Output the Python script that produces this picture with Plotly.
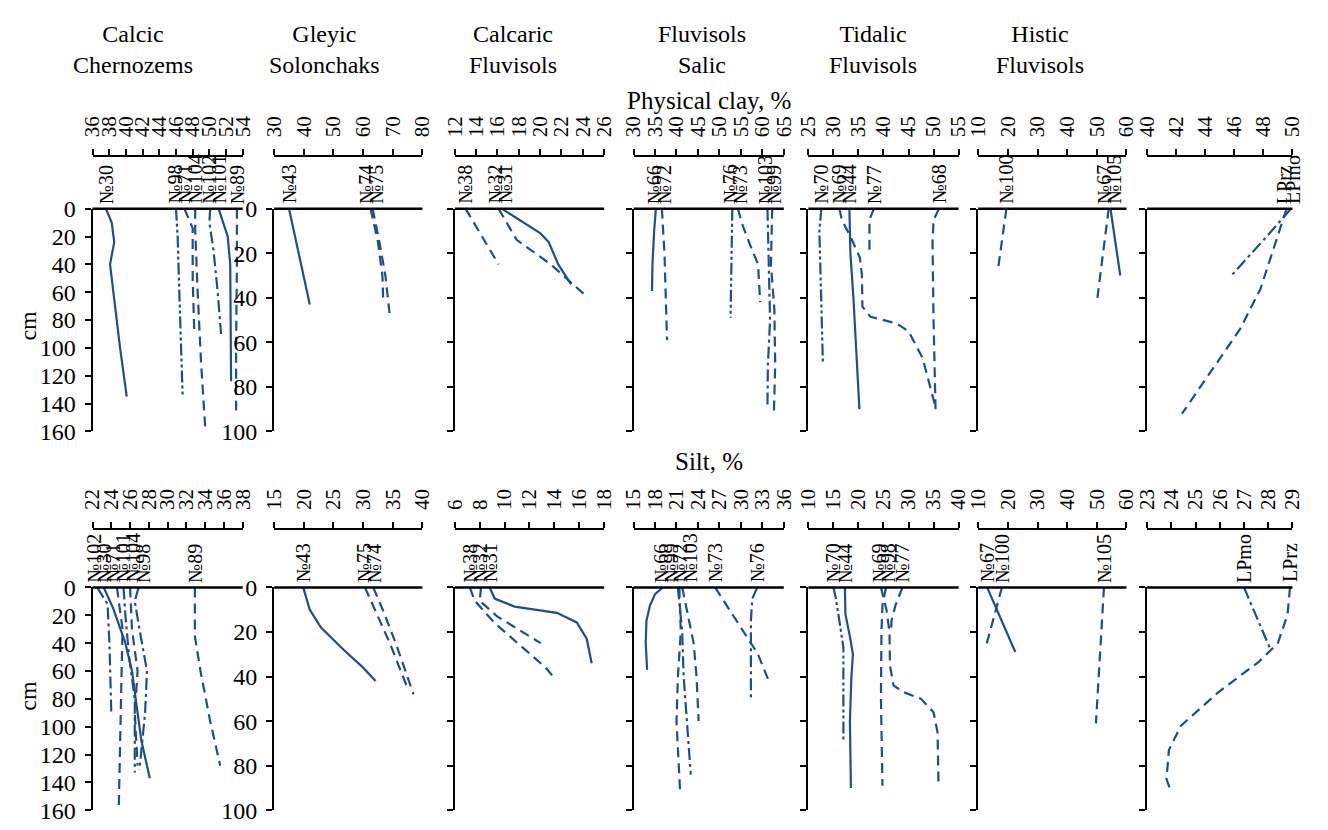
import plotly.graph_objects as go

# ================= DATA =================
soil_groups = ["Calcic<br>Chernozems", "Gleyic<br>Solonchaks", "Calcaric<br>Fluvisols",
               "Fluvisols<br>Salic", "Tidalic<br>Fluvisols", "Histic<br>Fluvisols"]
row_titles = ["Physical clay, %", "Silt, %"]
depth_label = "cm"

# x-axis (min, max, step) per panel
clay_axes = [(36, 54, 2), (30, 80, 10), (12, 26, 2), (30, 65, 5), (25, 55, 5), (10, 60, 10), (40, 50, 2)]
silt_axes = [(22, 38, 2), (15, 40, 5), (6, 18, 2), (15, 36, 3), (10, 40, 5), (10, 60, 10), (23, 29, 1)]
depth_max = [160, 100, 100, 100, 100, 100, 100]

# ---- Physical clay: Calcic Chernozems ----
c1_n30 = [37.6, 38.3, 38.6, 38.1, 38.5, 39.3, 40.1];  c1_n30_cm = [0, 10, 24, 40, 60, 100, 135]
c1_n98 = [46.0, 46.2, 46.4, 46.6, 46.8];              c1_n98_cm = [0, 20, 60, 100, 135]
c1_n71 = [47.0, 48.0, 48.0, 48.2];                    c1_n71_cm = [0, 14, 50, 90]
c1_n104 = [48.3, 48.3, 48.6, 49.0, 49.5];             c1_n104_cm = [0, 15, 60, 110, 157]
c1_n102 = [50.1, 50.0, 50.5, 51.0, 51.4];             c1_n102_cm = [0, 10, 30, 60, 90]
c1_n101 = [51.1, 52.2, 52.5, 52.6];                   c1_n101_cm = [0, 20, 40, 124]
c1_n89 = [53.3, 53.3, 53.2, 53.2];                    c1_n89_cm = [0, 40, 100, 145]
# ---- Physical clay: Gleyic Solonchaks ----
c2_n43 = [35.0, 42.0];                                c2_n43_cm = [0, 43]
c2_n74 = [62.5, 65.0, 66.5, 66.8];                    c2_n74_cm = [0, 15, 30, 42]
c2_n75 = [63.2, 65.5, 67.5, 69.0];                    c2_n75_cm = [0, 15, 30, 48]
# ---- Physical clay: Calcaric Fluvisols ----
c3_n38 = [13.0, 16.1];                                c3_n38_cm = [0, 25]
c3_n32 = [16.1, 17.8, 21.0, 24.5];                    c3_n32_cm = [0, 14, 25, 40]
c3_n31 = [16.4, 17.7, 20.0, 20.8, 21.7, 22.9];        c3_n31_cm = [0, 4, 11, 15, 25, 34]
# ---- Physical clay: Fluvisols Salic ----
c4_n66 = [35.2, 34.8, 34.4, 34.3];                    c4_n66_cm = [0, 10, 25, 37]
c4_n72 = [36.6, 37.2, 37.8];                          c4_n72_cm = [0, 20, 59]
c4_n76 = [53.0, 52.8, 52.6];                          c4_n76_cm = [0, 25, 49]
c4_n73 = [54.3, 55.5, 57.5, 59.0, 59.5];              c4_n73_cm = [0, 8, 18, 25, 42]
c4_n103 = [61.2, 61.5, 61.8, 61.3, 61.2];             c4_n103_cm = [0, 30, 50, 70, 88]
c4_n99 = [62.3, 62.0, 62.8, 63.0, 62.7];              c4_n99_cm = [0, 25, 45, 70, 91]
# ---- Physical clay: Tidalic Fluvisols ----
c5_n70 = [27.6, 27.2, 27.5, 27.9];                    c5_n70_cm = [0, 10, 35, 69]
c5_n69 = [31.2, 31.7, 33.5, 35.3, 35.7, 35.8, 37.4, 42.6, 45.0, 47.8, 50.4]
c5_n69_cm = [0, 5, 13, 22, 30, 44, 48.5, 51.5, 55, 67, 89]
c5_n44 = [33.2, 33.4, 34.0, 35.2];                    c5_n44_cm = [0, 20, 40, 90]
c5_n77 = [38.1, 37.2, 37.2];                          c5_n77_cm = [0, 5, 19]
c5_n68 = [51.1, 50.0, 49.8, 50.0, 50.4];              c5_n68_cm = [0, 5, 15, 50, 90]
# ---- Physical clay: Histic Fluvisols ----
c6_n100 = [19.5, 16.8];                               c6_n100_cm = [0, 26]
c6_n67 = [54.0, 50.1];                                c6_n67_cm = [0, 41]
c6_n105 = [54.6, 57.9];                               c6_n105_cm = [0, 30]
# ---- Physical clay: LP profiles ----
c7_lprz = [49.6, 49.2, 48.6, 47.8, 46.4, 44.4, 42.4]; c7_lprz_cm = [0, 8, 20, 36, 54, 73, 92]
c7_lpmo = [49.9, 48.3, 45.8];                         c7_lpmo_cm = [0, 12, 30]

# ---- Silt: Calcic Chernozems ----
s1_n102 = [22.5, 23.6, 23.8, 23.9, 24.0];             s1_n102_cm = [0, 12, 40, 70, 90]
s1_n30 = [23.2, 24.2, 25.5, 26.2, 26.6, 27.2, 28.1];  s1_n30_cm = [0, 15, 40, 60, 80, 110, 137]
s1_n71 = [24.6, 25.2, 25.1, 25.0, 24.8];              s1_n71_cm = [0, 30, 60, 100, 157]
s1_n101 = [25.3, 25.5, 25.9, 26.5, 26.5];             s1_n101_cm = [0, 20, 50, 80, 133]
s1_n104 = [26.0, 26.2, 26.8, 26.5, 26.8];             s1_n104_cm = [0, 30, 60, 90, 128]
s1_n98 = [26.9, 26.5, 27.0, 27.8, 27.6, 27.0];        s1_n98_cm = [0, 10, 30, 60, 90, 131]
s1_n89 = [32.9, 32.9, 33.5, 34.5, 35.6];              s1_n89_cm = [0, 35, 60, 95, 128]
# ---- Silt: Gleyic Solonchaks ----
s2_n43 = [19.9, 20.4, 21.0, 22.9, 26.7, 30.0, 32.1];  s2_n43_cm = [0, 5, 10, 18, 28, 36, 42]
s2_n75 = [30.3, 32.0, 34.5, 37.3];                    s2_n75_cm = [0, 10, 25, 44]
s2_n74 = [31.7, 33.3, 35.5, 38.5];                    s2_n74_cm = [0, 10, 25, 48]
# ---- Silt: Calcaric Fluvisols ----
s3_n38 = [7.2, 7.6, 9.2, 13.3, 13.9];                 s3_n38_cm = [0, 6, 16, 36, 40]
s3_n32 = [8.1, 8.0, 9.4, 12.9];                       s3_n32_cm = [0, 6, 13, 25]
s3_n31 = [8.8, 9.2, 10.8, 14.2, 15.8, 16.6, 17.0];    s3_n31_cm = [0, 5, 8.6, 11.4, 15.7, 23, 34]
# ---- Silt: Fluvisols Salic ----
s4_n66 = [19.1, 18.0, 17.3, 16.8, 16.7, 16.9];        s4_n66_cm = [0, 3, 8, 15, 25, 37]
s4_n99 = [21.2, 21.8, 22.0, 22.5, 23.0];              s4_n99_cm = [0, 20, 40, 60, 84]
s4_n72 = [21.4, 21.6, 21.2, 21.0, 21.5];              s4_n72_cm = [0, 20, 40, 60, 91]
s4_n103 = [21.8, 22.4, 23.4, 23.8, 24.1];             s4_n103_cm = [0, 10, 25, 40, 60]
s4_n73 = [26.4, 28.0, 30.5, 32.4, 33.9];              s4_n73_cm = [0, 8, 20, 30, 42]
s4_n76 = [32.3, 31.6, 31.4, 31.4];                    s4_n76_cm = [0, 5, 15, 50]
# ---- Silt: Tidalic Fluvisols ----
s5_n70 = [15.0, 15.5, 16.2, 17.0, 17.0];              s5_n70_cm = [0, 5, 15, 27, 69]
s5_n44 = [17.3, 17.4, 18.3, 18.9, 18.6, 18.3, 18.5];  s5_n44_cm = [0, 12, 22, 30, 40, 60, 90]
s5_n69 = [24.5, 25.6, 26.2, 26.3, 27.0, 29.0, 32.5, 35.0, 35.8, 36.0]
s5_n69_cm = [0, 10, 20, 35, 44, 47, 50, 56, 65, 89]
s5_n98 = [25.5, 24.8, 24.6, 24.5, 24.8];              s5_n98_cm = [0, 8, 20, 50, 89]
s5_n77 = [28.8, 27.4, 26.6, 26.5];                    s5_n77_cm = [0, 8, 15, 20]
# ---- Silt: Histic Fluvisols ----
s6_n67 = [13.0, 22.5];                                s6_n67_cm = [0, 29]
s6_n100 = [18.0, 12.5];                               s6_n100_cm = [0, 27]
s6_n105 = [52.4, 49.7];                               s6_n105_cm = [0, 61]
# ---- Silt: LP profiles ----
s7_lpmo = [27.0, 28.1];                               s7_lpmo_cm = [0, 28]
s7_lprz = [28.9, 28.8, 28.4, 27.6, 26.0, 24.4, 23.9, 23.8, 24.0]
s7_lprz_cm = [0, 12, 25, 33.5, 46.5, 62, 73, 86, 92]

# ---- panel membership (name, values, depths, line style) ----
clay_panels = [
    [("№30", c1_n30, c1_n30_cm, "solid"), ("№98", c1_n98, c1_n98_cm, "dashdotdot"),
     ("№71", c1_n71, c1_n71_cm, "dash"), ("№104", c1_n104, c1_n104_cm, "dash"),
     ("№102", c1_n102, c1_n102_cm, "dashdot"), ("№101", c1_n101, c1_n101_cm, "solid"),
     ("№89", c1_n89, c1_n89_cm, "dash")],
    [("№43", c2_n43, c2_n43_cm, "solid"), ("№74", c2_n74, c2_n74_cm, "dash"),
     ("№75", c2_n75, c2_n75_cm, "dash")],
    [("№38", c3_n38, c3_n38_cm, "dash"), ("№32", c3_n32, c3_n32_cm, "dash"),
     ("№31", c3_n31, c3_n31_cm, "solid")],
    [("№66", c4_n66, c4_n66_cm, "solid"), ("№72", c4_n72, c4_n72_cm, "dash"),
     ("№76", c4_n76, c4_n76_cm, "dashdotdot"), ("№73", c4_n73, c4_n73_cm, "dash"),
     ("№103", c4_n103, c4_n103_cm, "dashdot"), ("№99", c4_n99, c4_n99_cm, "dash")],
    [("№70", c5_n70, c5_n70_cm, "dashdotdot"), ("№69", c5_n69, c5_n69_cm, "dash"),
     ("№44", c5_n44, c5_n44_cm, "solid"), ("№77", c5_n77, c5_n77_cm, "dash"),
     ("№68", c5_n68, c5_n68_cm, "dash")],
    [("№100", c6_n100, c6_n100_cm, "dash"), ("№67", c6_n67, c6_n67_cm, "dash"),
     ("№105", c6_n105, c6_n105_cm, "solid")],
    [("LPrz", c7_lprz, c7_lprz_cm, "dash"), ("LPmo", c7_lpmo, c7_lpmo_cm, "dashdot")],
]
silt_panels = [
    [("№102", s1_n102, s1_n102_cm, "dashdot"), ("№30", s1_n30, s1_n30_cm, "solid"),
     ("№71", s1_n71, s1_n71_cm, "dash"), ("№101", s1_n101, s1_n101_cm, "dashdot"),
     ("№104", s1_n104, s1_n104_cm, "dash"), ("№98", s1_n98, s1_n98_cm, "dashdot"),
     ("№89", s1_n89, s1_n89_cm, "dash")],
    [("№43", s2_n43, s2_n43_cm, "solid"), ("№75", s2_n75, s2_n75_cm, "dash"),
     ("№74", s2_n74, s2_n74_cm, "dash")],
    [("№38", s3_n38, s3_n38_cm, "dash"), ("№32", s3_n32, s3_n32_cm, "dash"),
     ("№31", s3_n31, s3_n31_cm, "solid")],
    [("№66", s4_n66, s4_n66_cm, "solid"), ("№99", s4_n99, s4_n99_cm, "dashdot"),
     ("№72", s4_n72, s4_n72_cm, "dash"), ("№103", s4_n103, s4_n103_cm, "dash"),
     ("№73", s4_n73, s4_n73_cm, "dash"), ("№76", s4_n76, s4_n76_cm, "dashdot")],
    [("№70", s5_n70, s5_n70_cm, "dashdotdot"), ("№44", s5_n44, s5_n44_cm, "solid"),
     ("№69", s5_n69, s5_n69_cm, "dash"), ("№98", s5_n98, s5_n98_cm, "dash"),
     ("№77", s5_n77, s5_n77_cm, "dash")],
    [("№67", s6_n67, s6_n67_cm, "solid"), ("№100", s6_n100, s6_n100_cm, "dash"),
     ("№105", s6_n105, s6_n105_cm, "dash")],
    [("LPmo", s7_lpmo, s7_lpmo_cm, "dashdot"), ("LPrz", s7_lprz, s7_lprz_cm, "dash")],
]

# ================= LAYOUT / STYLE =================
W, H = 1328, 830
FONT = "Liberation Serif, Times New Roman, serif"
BLUE = "#1f4e8c"
DASH = {"solid": "solid", "dash": "10px,6px", "dashdot": "12px,4px,3px,4px",
        "dashdotdot": "12px,3px,3px,3px,3px,3px"}
col_left = [82, 267, 451, 633, 811, 984, 1156]
col_width = [153, 151, 152, 153, 153, 151, 148]
header_x = [123, 318, 510, 703, 877, 1047]
rows = [dict(axis=148, top=202, bot=432, lab=199, title=90, cm=323),
        dict(axis=533, top=593, bot=823, lab=590, title=463, cm=705)]


def fy(p):
    return 1 - p / H


def fx(p):
    return p / W


def spread(pos, gap):
    """separate label centres that would overlap, keeping clusters centred"""
    order = sorted(range(len(pos)), key=lambda i: pos[i])
    orig = [pos[i] for i in order]
    cur = orig[:]
    for _ in range(20):
        clusters = [[0]]
        for i in range(1, len(cur)):
            if cur[i] - cur[i - 1] < gap + 1e-6:
                clusters[-1].append(i)
            else:
                clusters.append([i])
        new = cur[:]
        for cl in clusters:
            m = sum(orig[i] for i in cl) / len(cl)
            n = len(cl)
            for j, i in enumerate(cl):
                new[i] = m + (j - (n - 1) / 2) * gap
        if new == cur:
            break
        cur = new
    out = [0] * len(pos)
    for k, i in enumerate(order):
        out[i] = cur[k]
    return out


fig = go.Figure()
layout = {}
annotations = []
shapes = []
k = 0
for r, (row, axes, panels) in enumerate(zip(rows, [clay_axes, silt_axes], [clay_panels, silt_panels])):
    for c in range(7):
        k += 1
        sid = "" if k == 1 else str(k)
        xr, yr = "x" + sid, "y" + sid
        lo, hi, step = axes[c]
        left, width = col_left[c], col_width[c]
        dom_y = [fy(row["bot"]), fy(row["top"])]
        layout["xaxis" + sid] = dict(
            domain=[fx(left), fx(left + width)], range=[lo, hi], anchor="free",
            position=fy(row["axis"]), side="top", tick0=lo, dtick=step,
            ticks="outside", ticklen=6, tickwidth=1.5, tickcolor="black",
            showline=True, linecolor="black", linewidth=2, showgrid=False, zeroline=False,
            tickangle=-90, ticklabelstandoff=8,
            tickfont=dict(family=FONT, size=21, color="black"), fixedrange=True)
        layout["yaxis" + sid] = dict(
            domain=dom_y, range=[depth_max[c], 0], anchor=xr, side="left", tick0=0, dtick=20,
            ticks="outside", ticklen=6, tickwidth=1.5, tickcolor="black",
            showline=True, linecolor="black", linewidth=2, showgrid=False, zeroline=False,
            showticklabels=(c < 2), ticklabelstandoff=4,
            tickfont=dict(family=FONT, size=24, color="black"), fixedrange=True)
        shapes.append(dict(type="line", xref=xr + " domain", yref="paper", x0=0, x1=1,
                           y0=dom_y[1], y1=dom_y[1], line=dict(color="black", width=2.5)))
        names, starts = [], []
        for name, vals, depths, style in panels[c]:
            fig.add_trace(go.Scatter(x=vals, y=depths, xaxis=xr, yaxis=yr, mode="lines",
                                     line=dict(color=BLUE, width=2.2, dash=DASH[style]),
                                     showlegend=False, hoverinfo="skip"))
            names.append(name)
            starts.append(left + (vals[0] - lo) / (hi - lo) * width)
        for name, p in zip(names, spread(starts, 10)):
            annotations.append(dict(text=name, x=fx(p), y=fy(row["lab"]), xref="paper", yref="paper",
                                    xanchor="center", yanchor="bottom", textangle=-90, showarrow=False,
                                    font=dict(family=FONT, size=20, color="black")))
    annotations.append(dict(text=row_titles[r], x=fx(710), y=fy(row["title"]), xref="paper", yref="paper",
                            xanchor="center", yanchor="middle", showarrow=False,
                            font=dict(family=FONT, size=25, color="black")))
    annotations.append(dict(text=depth_label, x=fx(16), y=fy(row["cm"]), xref="paper", yref="paper",
                            xanchor="center", yanchor="middle", textangle=-90, showarrow=False,
                            font=dict(family=FONT, size=24, color="black")))

for g, xh in zip(soil_groups, header_x):
    annotations.append(dict(text=g, x=fx(xh), y=fy(38), xref="paper", yref="paper",
                            xanchor="center", yanchor="middle", showarrow=False,
                            font=dict(family=FONT, size=24, color="black")))

fig.update_layout(width=W, height=H, margin=dict(l=0, r=0, t=0, b=0),
                  plot_bgcolor="white", paper_bgcolor="white",
                  annotations=annotations, shapes=shapes, showlegend=False, **layout)
fig.write_html("out.html", post_script="document.body.style.margin='0';")
